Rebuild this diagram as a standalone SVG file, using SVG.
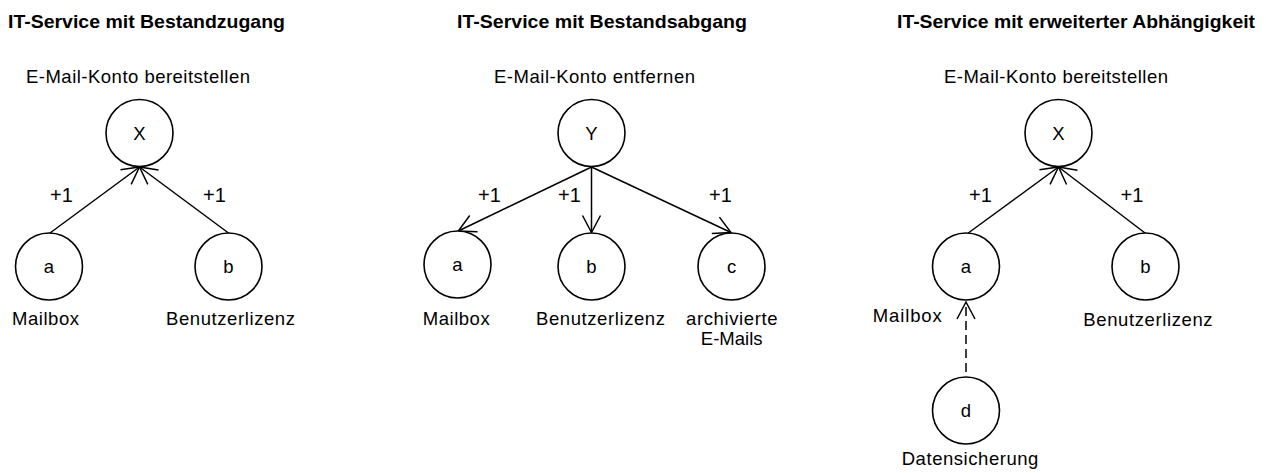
<svg xmlns="http://www.w3.org/2000/svg" width="1266" height="473" viewBox="0 0 1266 473">
  <style>
    text { font-family: "Liberation Sans", Arial, sans-serif; fill: #000; }
    .title { font-size: 19px; font-weight: bold; }
    .lbl { font-size: 18.5px; }
    .w { font-size: 20px; }
    .id { font-size: 18.5px; text-anchor: middle; }
    .node circle { fill: #fff; stroke: #000; stroke-width: 1.6; }
    .edge { fill: none; stroke: #000; stroke-width: 1.5; marker-end: url(#open); }
    .dash { stroke-dasharray: 9 5; }
  </style>
  <defs>
    <marker id="open" markerUnits="userSpaceOnUse" orient="auto" refX="0" refY="0"
            markerWidth="40" markerHeight="40" viewBox="-20 -20 40 40" overflow="visible">
      <path d="M-17,-9 L0,0 L-17,9" fill="none" stroke="#000" stroke-width="1.5"/>
    </marker>
  </defs>
  <rect width="1266" height="473" fill="#fff"/>

  <!-- section headings -->
  <text class="title" x="8" y="28" textLength="277" lengthAdjust="spacingAndGlyphs">IT-Service mit Bestandzugang</text>
  <text class="title" x="457" y="28" textLength="290" lengthAdjust="spacingAndGlyphs">IT-Service mit Bestandsabgang</text>
  <text class="title" x="897" y="28" textLength="358" lengthAdjust="spacingAndGlyphs">IT-Service mit erweiterter Abhängigkeit</text>

  <!-- service names -->
  <text class="lbl" x="26" y="83" textLength="224" lengthAdjust="spacing">E-Mail-Konto bereitstellen</text>
  <text class="lbl" x="494" y="83" textLength="201" lengthAdjust="spacing">E-Mail-Konto entfernen</text>
  <text class="lbl" x="944" y="83" textLength="224" lengthAdjust="spacing">E-Mail-Konto bereitstellen</text>

  <!-- connectors -->
  <g id="connectors">
    <path class="edge" d="M50,233 L139.5,167"/>
    <path class="edge" d="M228.5,233 L139.5,167"/>
    <path class="edge" d="M591.5,167 L458.3,231"/>
    <path class="edge" d="M591.5,167 L591.5,232.5"/>
    <path class="edge" d="M591.5,167 L731,232.5"/>
    <path class="edge" d="M968.3,233 L1058.5,167"/>
    <path class="edge" d="M1145,233 L1058.5,167"/>
    <path class="edge dash" d="M966,372 L966,302"/>
    <text class="w" x="50" y="202">+1</text>
    <text class="w" x="203" y="202">+1</text>
    <text class="w" x="478" y="202">+1</text>
    <text class="w" x="558" y="202">+1</text>
    <text class="w" x="709" y="202">+1</text>
    <text class="w" x="969" y="202">+1</text>
    <text class="w" x="1120.5" y="202">+1</text>
  </g>

  <!-- Bestandzugang -->
  <g id="z-X" class="node"><circle cx="139.5" cy="133" r="33.5"/><text class="id" x="139.5" y="139.5">X</text></g>
  <g id="z-a" class="node"><circle cx="49" cy="266.5" r="33.5"/><text class="id" x="49" y="273">a</text>
    <text class="lbl" x="12" y="324.5" textLength="67" lengthAdjust="spacing">Mailbox</text></g>
  <g id="z-b" class="node"><circle cx="228.5" cy="266.5" r="33.5"/><text class="id" x="228.5" y="273">b</text>
    <text class="lbl" x="166" y="324.5" textLength="129" lengthAdjust="spacing">Benutzerlizenz</text></g>

  <!-- Bestandsabgang -->
  <g id="a-Y" class="node"><circle cx="591.5" cy="133" r="33.5"/><text class="id" x="591.5" y="139.5">Y</text></g>
  <g id="a-a" class="node"><circle cx="457.5" cy="264.5" r="33.5"/><text class="id" x="457.5" y="271">a</text>
    <text class="lbl" x="422.7" y="324.5" textLength="67" lengthAdjust="spacing">Mailbox</text></g>
  <g id="a-b" class="node"><circle cx="591.5" cy="266.5" r="33.5"/><text class="id" x="591.5" y="273">b</text>
    <text class="lbl" x="536" y="324.5" textLength="129" lengthAdjust="spacing">Benutzerlizenz</text></g>
  <g id="a-c" class="node"><circle cx="731.5" cy="266.5" r="33.5"/><text class="id" x="731.5" y="273">c</text>
    <text class="lbl" x="686" y="324.5" textLength="91.5" lengthAdjust="spacing">archivierte</text>
    <text class="lbl" x="731.7" y="344.5" text-anchor="middle">E-Mails</text></g>

  <!-- erweiterte Abhaengigkeit -->
  <g id="e-X" class="node"><circle cx="1058.5" cy="133" r="33.5"/><text class="id" x="1058.5" y="139.5">X</text></g>
  <g id="e-a" class="node"><circle cx="966" cy="266.5" r="33.5"/><text class="id" x="966" y="273">a</text>
    <text class="lbl" x="872.7" y="321.5" textLength="69" lengthAdjust="spacing">Mailbox</text></g>
  <g id="e-b" class="node"><circle cx="1145.5" cy="266.5" r="33.5"/><text class="id" x="1145.5" y="273">b</text>
    <text class="lbl" x="1083.3" y="325.5" textLength="129.3" lengthAdjust="spacing">Benutzerlizenz</text></g>
  <g id="e-d" class="node"><circle cx="966" cy="410.5" r="33.5"/><text class="id" x="966" y="417">d</text>
    <text class="lbl" x="901.7" y="464.5" textLength="136.7" lengthAdjust="spacing">Datensicherung</text></g>
</svg>
